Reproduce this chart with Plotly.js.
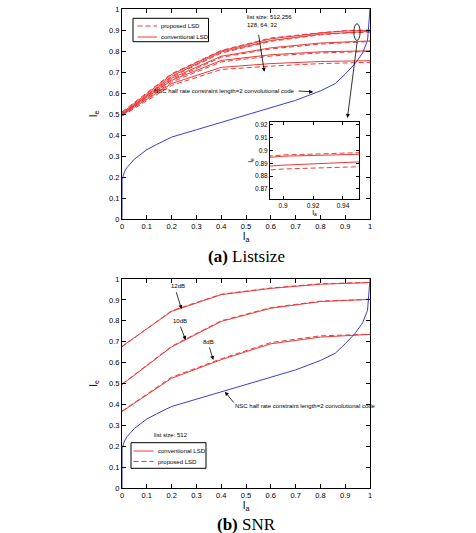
<!DOCTYPE html>
<html>
<head>
<meta charset="utf-8">
<script src="https://cdn.plot.ly/plotly-3.0.1.min.js"></script>
<style>html,body{margin:0;padding:0;background:#fff;}#chart{width:476px;height:533px;}</style>
</head>
<body>
<div id="chart"></div>
<script>
// ---------- data ----------
const xLS = [0, 0.2, 0.4, 0.6, 0.8, 0.9, 1.0];
const conv512 = [0.505, 0.688, 0.800, 0.858, 0.886, 0.8955, 0.8985];
const prop512 = [0.510, 0.692, 0.803, 0.862, 0.887, 0.8965, 0.900];
const conv256 = [0.500, 0.680, 0.795, 0.850, 0.880, 0.8885, 0.8935];
const prop256 = [0.500, 0.676, 0.790, 0.846, 0.877, 0.8855, 0.889];
const conv128 = [0.500, 0.670, 0.775, 0.815, 0.838, 0.844, 0.848];
const prop128 = [0.495, 0.664, 0.770, 0.810, 0.833, 0.840, 0.845];
const conv64  = [0.498, 0.660, 0.755, 0.782, 0.796, 0.799, 0.801];
const prop64  = [0.493, 0.652, 0.748, 0.776, 0.791, 0.795, 0.798];
const conv32  = [0.495, 0.645, 0.722, 0.740, 0.750, 0.752, 0.754];
const prop32  = [0.490, 0.636, 0.712, 0.728, 0.740, 0.743, 0.746];

const xSNR = [0, 0.2, 0.4, 0.6, 0.8, 1.0];
const conv12 = [0.678, 0.845, 0.925, 0.955, 0.975, 0.983];
const prop12 = [0.676, 0.848, 0.927, 0.957, 0.977, 0.984];
const conv10 = [0.495, 0.675, 0.797, 0.860, 0.892, 0.903];
const prop10 = [0.497, 0.678, 0.800, 0.863, 0.894, 0.902];
const conv8  = [0.366, 0.525, 0.614, 0.690, 0.722, 0.735];
const prop8  = [0.368, 0.530, 0.618, 0.696, 0.728, 0.736];

const xNSC = [0, 0.0005, 0.01, 0.02, 0.05, 0.1, 0.14, 0.2, 0.3, 0.4, 0.5, 0.6, 0.7, 0.8, 0.86, 0.9, 0.94, 0.97, 0.99, 1.0];
const yNSC = [0, 0.19, 0.225, 0.245, 0.285, 0.33, 0.355, 0.39, 0.425, 0.46, 0.495, 0.53, 0.565, 0.61, 0.645, 0.69, 0.74, 0.79, 0.85, 1.0];

const topLabels = ['proposed LSD', 'conventional LSD'];
const botLabels = ['conventional LSD', 'proposed LSD'];
const titleA = '<b>(a)</b> Listsize';
const titleB = '<b>(b)</b> SNR';
const nscText = 'NSC half rate constraint length=2 convolutional code';
const listText = 'list size: 512,256<br>128, 64, 32';
const list512Text = 'list size: 512';
const snrLabels = ['12dB', '10dB', '8dB'];

// ---------- styles ----------
const RED = 'rgb(236,58,58)';
const BLUE = 'rgb(60,60,215)';
const DASH = '5px,3px';
const FONT = 'Liberation Sans, Arial, sans-serif';
const M = {l: 122, r: 106, t: 9, b: 45};
const W = 476, H = 533;
const PW = W - M.l - M.r, PH = H - M.t - M.b;
const px = v => (v - M.l) / PW;          // pixel x -> paper x
const py = v => (H - M.b - v) / PH;      // pixel y -> paper y

function line(x, y, dashed, xa, ya) {
  return {
    x: x, y: y, type: 'scatter', mode: 'lines',
    xaxis: xa, yaxis: ya,
    line: {color: RED, width: 1, dash: dashed ? DASH : 'solid'},
    showlegend: false, hoverinfo: 'skip'
  };
}

const traces = [];
[prop512, prop256, prop128, prop64, prop32].forEach(y => traces.push(line(xLS, y, true, 'x', 'y')));
[conv512, conv256, conv128, conv64, conv32].forEach(y => traces.push(line(xLS, y, false, 'x', 'y')));
traces.push({x: xNSC, y: yNSC, type: 'scatter', mode: 'lines', xaxis: 'x', yaxis: 'y',
  line: {color: BLUE, width: 1}, showlegend: false, hoverinfo: 'skip'});
[conv512, conv256].forEach(y => traces.push(line(xLS, y, false, 'x3', 'y3')));
[prop512, prop256].forEach(y => traces.push(line(xLS, y, true, 'x3', 'y3')));
[conv12, conv10, conv8].forEach(y => traces.push(line(xSNR, y, false, 'x2', 'y2')));
[prop12, prop10, prop8].forEach(y => traces.push(line(xSNR, y, true, 'x2', 'y2')));
traces.push({x: xNSC, y: yNSC, type: 'scatter', mode: 'lines', xaxis: 'x2', yaxis: 'y2',
  line: {color: BLUE, width: 1}, showlegend: false, hoverinfo: 'skip'});

function ax(extra) {
  return Object.assign({
    showline: true, linecolor: '#000', linewidth: 1, mirror: 'ticks',
    ticks: 'inside', ticklen: 4, tickwidth: 1, tickcolor: '#000',
    showgrid: false, zeroline: false,
    tickfont: {family: FONT, size: 7.5, color: '#000'},
    fixedrange: true
  }, extra);
}
const axTitleFont = {family: FONT, size: 10, color: '#000'};

function arrow(xref, yref, x, y, axv, ayv) {
  return {xref: xref, yref: yref, x: x, y: y, axref: xref, ayref: yref, ax: axv, ay: ayv,
    text: '', showarrow: true, arrowhead: 2, arrowsize: 1, arrowwidth: 0.8, arrowcolor: '#000'};
}
function label(xref, yref, x, y, text, xanchor, align) {
  return {xref: xref, yref: yref, x: x, y: y, text: text, showarrow: false,
    xanchor: xanchor || 'center', yanchor: 'middle', align: align || 'center',
    font: {family: FONT, size: 6, color: '#000'}};
}

// hand-drawn legends (MATLAB style: compact box)
function legendBox(x0, x1, y0, y1, items) {
  const shapes = [{type: 'rect', xref: 'paper', yref: 'paper', x0: px(x0), x1: px(x1), y0: py(y1), y1: py(y0),
    line: {color: '#000', width: 1}, fillcolor: '#fff', layer: 'above'}];
  const anns = [];
  items.forEach(it => {
    shapes.push({type: 'line', xref: 'paper', yref: 'paper', x0: px(it.lx0), x1: px(it.lx1), y0: py(it.y), y1: py(it.y),
      line: {color: RED, width: 1, dash: it.dashed ? DASH : 'solid'}, layer: 'above'});
    anns.push({xref: 'paper', yref: 'paper', x: px(it.tx), y: py(it.y), text: it.text, showarrow: false,
      xanchor: 'left', yanchor: 'middle', font: {family: FONT, size: 6, color: '#000'}});
  });
  return {shapes, anns};
}
const legTop = legendBox(133, 208.5, 18.3, 41.7, [
  {text: topLabels[0], dashed: true, y: 26, lx0: 137.5, lx1: 157, tx: 158.5},
  {text: topLabels[1], dashed: false, y: 37, lx0: 137.5, lx1: 157, tx: 158.5}
]);
const legBot = legendBox(131, 206, 442.7, 468.3, [
  {text: botLabels[0], dashed: false, y: 451, lx0: 133.5, lx1: 153.5, tx: 155.5},
  {text: botLabels[1], dashed: true, y: 461.5, lx0: 133.5, lx1: 153.5, tx: 155.5}
]);

const layout = {
  width: W, height: H,
  margin: M,
  paper_bgcolor: '#fff', plot_bgcolor: '#fff',
  font: {family: FONT, color: '#000'},
  showlegend: false,
  xaxis: ax({domain: [0, 1], anchor: 'y', range: [0, 1], dtick: 0.1,
    title: {text: 'I<sub>a</sub>', font: axTitleFont, standoff: 2}}),
  yaxis: ax({domain: [py(219), 1], anchor: 'x', range: [0, 1], dtick: 0.1,
    title: {text: 'I<sub>e</sub>', font: axTitleFont, standoff: 9}}),
  xaxis2: ax({domain: [0, 1], anchor: 'y2', range: [0, 1], dtick: 0.1,
    title: {text: 'I<sub>a</sub>', font: axTitleFont, standoff: 0}}),
  yaxis2: ax({domain: [0, py(279)], anchor: 'x2', range: [0, 1], dtick: 0.1,
    title: {text: 'I<sub>e</sub>', font: axTitleFont, standoff: 9}}),
  xaxis3: ax({domain: [px(270), px(359)], anchor: 'y3', range: [0.8913, 0.9507],
    tickvals: [0.9, 0.92, 0.94], ticklen: 3, tickfont: {family: FONT, size: 6.5, color: '#000'},
    title: {text: 'I<sub>a</sub>', font: {family: FONT, size: 7, color: '#000'}, standoff: 0}}),
  yaxis3: ax({domain: [py(199), py(122)], anchor: 'x3', range: [0.862, 0.9223],
    tickvals: [0.87, 0.88, 0.89, 0.9, 0.91, 0.92], ticktext: ['0.87', '0.88', '0.89', '0.9', '0.91', '0.92'],
    ticklen: 3, tickfont: {family: FONT, size: 6.5, color: '#000'},
    title: {text: 'I<sub>e</sub>', font: {family: FONT, size: 7, color: '#000'}, standoff: 0}}),
  shapes: [
    {type: 'circle', xref: 'x', yref: 'y', x0: 0.935, x1: 0.96, y0: 0.85, y1: 0.93,
      line: {color: '#000', width: 0.8}}
  ].concat(legTop.shapes, legBot.shapes),
  annotations: [
    {xref: 'paper', yref: 'paper', x: 0.5, y: py(256), text: titleA, showarrow: false,
      font: {family: 'Liberation Serif, Times New Roman, serif', size: 17, color: '#000'}, xanchor: 'center', yanchor: 'middle'},
    {xref: 'paper', yref: 'paper', x: 0.5, y: py(524), text: titleB, showarrow: false,
      font: {family: 'Liberation Serif, Times New Roman, serif', size: 17, color: '#000'}, xanchor: 'center', yanchor: 'middle'},
    label('x', 'y', 0.496, 0.943, listText, 'left', 'left'),
    arrow('x', 'y', 0.574, 0.701, 0.55, 0.884),
    label('x', 'y', 0.415, 0.610, nscText),
    arrow('x', 'y', 0.771, 0.605, 0.706, 0.610),
    arrow('x', 'y', 0.909, 0.481, 0.949, 0.85),
    label('x2', 'y2', 0.225, 0.967, snrLabels[0]),
    arrow('x2', 'y2', 0.240, 0.856, 0.217, 0.944),
    label('x2', 'y2', 0.233, 0.800, snrLabels[1]),
    arrow('x2', 'y2', 0.257, 0.708, 0.233, 0.780),
    label('x2', 'y2', 0.347, 0.700, snrLabels[2]),
    arrow('x2', 'y2', 0.368, 0.612, 0.351, 0.680),
    label('x2', 'y2', 0.739, 0.392, nscText),
    arrow('x2', 'y2', 0.415, 0.461, 0.455, 0.402),
    label('x2', 'y2', 0.196, 0.254, list512Text)
  ].concat(legTop.anns, legBot.anns)
};

Plotly.newPlot('chart', traces, layout, {staticPlot: true, displayModeBar: false});
</script>
</body>
</html>
